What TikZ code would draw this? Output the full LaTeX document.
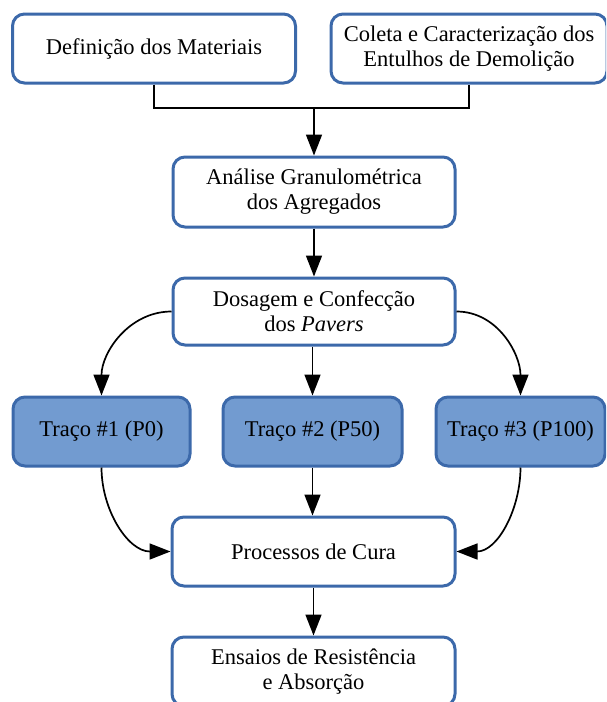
\documentclass[tikz,border=0pt]{standalone}
\usepackage{fontspec}
\setmainfont{Liberation Serif}
\usetikzlibrary{arrows.meta}
\definecolor{bordc}{RGB}{60,105,170}
\definecolor{fillc}{RGB}{114,155,208}
\tikzset{
  box/.style={draw=bordc, line width=3pt, rounded corners=12pt, fill=white,
    align=center, inner sep=0pt, font=\fontsize{22.5}{25}\selectfont},
  tbox/.style={box, fill=fillc},
  arr/.style={line width=1.7pt, -{Triangle[length=21pt,width=16pt]}},
  ln/.style={line width=1.7pt}
}
\begin{document}
\begin{tikzpicture}[x=1pt,y=-1pt]
\clip (0,0) rectangle (606,702);
\node[box, minimum width=283pt, minimum height=69pt] (A) at (154,48.5) {Definição dos Materiais};
\node[box, minimum width=276pt, minimum height=69pt] (B) at (469,48.5) {Coleta e Caracterização dos\\Entulhos de Demolição};
\node[box, minimum width=282pt, minimum height=70pt] (C) at (314,192) {Análise Granulométrica\\dos Agregados};
\node[box, minimum width=282pt, minimum height=67pt] (D) at (314,311.5) {Dosagem e Confecção\\dos \textit{Pavers}};
\node[tbox, minimum width=177pt, minimum height=69pt] (T1) at (101.5,431.5) {Traço \#1 (P0)};
\node[tbox, minimum width=179pt, minimum height=69pt] (T2) at (312.5,431.5) {Traço \#2 (P50)};
\node[tbox, minimum width=169pt, minimum height=69pt] (T3) at (520.5,431.5) {Traço \#3 (P100)};
\node[box, minimum width=283pt, minimum height=69pt] (E) at (313.5,551.5) {Processos de Cura};
\node[box, minimum width=283pt, minimum height=69pt] (F) at (313.5,671.5) {Ensaios de Resistência\\e Absorção};
\coordinate (j) at (314,108);
\draw[ln] (A.south) |- (j) -| (B.south);
\draw[arr] (j) -- (C.north);
\draw[arr] (C.south) -- (D.north);
\draw[arr] (D.west) to[out=180,in=90] (T1.north);
\draw[arr] (D.south -| T2.north) -- (T2.north);
\draw[arr] (D.east) to[out=0,in=90] (T3.north);
\draw[arr] (T1.south) to[out=-90,in=180] (E.west);
\draw[arr] (T2.south) -- (E.north -| T2.south);
\draw[arr] (T3.south) to[out=-90,in=0] (E.east);
\draw[arr] (E.south) -- (F.north);
\end{tikzpicture}
\end{document}
